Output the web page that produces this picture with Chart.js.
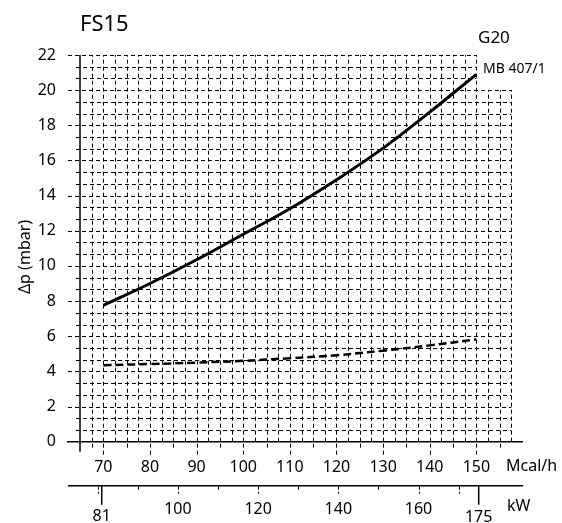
<!DOCTYPE html>
<html>
<head>
<meta charset="utf-8">
<script src="https://cdn.jsdelivr.net/npm/chart.js@4"></script>
<style>
  html, body { margin: 0; padding: 0; background: #fff; }
  #wrap { width: 562px; height: 523px; }
</style>
</head>
<body>
<div id="wrap"><canvas id="fsChart"></canvas></div>
<script>
// burner output in Mcal/h
const mcal = [70, 80, 90, 100, 110, 120, 130, 140, 150];
// pressure drop in mbar
const dpSolid = [7.75, 9.0, 10.35, 11.8, 13.25, 14.9, 16.7, 18.75, 20.9];
const dpDashed = [4.35, 4.42, 4.5, 4.6, 4.75, 4.92, 5.18, 5.48, 5.82];

// axis ticks
const yTicks = [0, 2, 4, 6, 8, 10, 12, 14, 16, 18, 20, 22];
const mcalTicks = [70, 80, 90, 100, 110, 120, 130, 140, 150];
const kwTicks = [100, 120, 140, 160];
const kwMarks = [81, 175];
const kwMinor = [80, 90, 100, 110, 120, 130, 140, 150, 160, 170];

const KW_TO_MCAL = 0.86;
const FONT = "'Noto Sans', sans-serif";

Chart.defaults.font.family = FONT;
Chart.defaults.font.size = 16;
Chart.defaults.color = '#000';

function seg(ctx, x1, y1, x2, y2) {
    ctx.beginPath();
    ctx.moveTo(x1, y1);
    ctx.lineTo(x2, y2);
    ctx.stroke();
}

// dotted paper grid + axis lines, drawn through the chart's own scales
const paperGrid = {
    id: 'paperGrid',
    beforeDatasetsDraw(chart) {
        const { ctx, scales: { x, y, x2 } } = chart;
        const y0 = y.getPixelForValue(0);
        ctx.save();
        ctx.strokeStyle = '#000';
        ctx.lineWidth = 1;
        ctx.setLineDash([4, 3]);

        // vertical lines every 2.5 Mcal/h, the top right corner is left open for the label
        for (let v = 67.5; v < 159; v += 2.5) {
            const px = Math.round(x.getPixelForValue(v)) + 0.5;
            const top = y.getPixelForValue(v <= 150 ? 22 : 20);
            seg(ctx, px, y0, px, top);
            if (v % 5 === 0 || v === 67.5) {
                seg(ctx, px, y0 + 2, px, y0 + (v % 10 === 0 ? 13 : 6));
            }
        }
        // horizontal lines every 2/3 mbar
        for (let i = 1; i <= 33; i++) {
            const v = i * 2 / 3;
            const py = Math.round(y.getPixelForValue(v)) + 0.5;
            const right = x.getPixelForValue(v > 20.01 ? 150 : 157.5);
            const left = x.left - (i % 3 === 0 ? 12 : 4);
            seg(ctx, left, py, right, py);
        }

        // solid axis lines
        ctx.setLineDash([]);
        ctx.lineWidth = 1.5;
        seg(ctx, x.left, y.getPixelForValue(22), x.left, y0 + 10);
        seg(ctx, x.left - 13, y0, x.right, y0);

        // kW scale
        const ky = x2.top;
        seg(ctx, x.left - 12, ky, x.right, ky);
        for (const k of kwMarks) {
            const px = x2.getPixelForValue(k);
            seg(ctx, px, ky, px, ky + 19);
        }
        ctx.lineWidth = 1;
        ctx.setLineDash([3, 2]);
        for (const k of kwMinor) {
            const px = Math.round(x2.getPixelForValue(k)) + 0.5;
            seg(ctx, px, ky + 1, px, ky + (k % 20 === 0 || k === 170 ? 8 : 4));
        }
        ctx.restore();
    },
    afterDraw(chart) {
        const { ctx, scales: { x, y, x2 } } = chart;
        ctx.save();
        ctx.fillStyle = '#000';
        ctx.textBaseline = 'alphabetic';
        ctx.textAlign = 'left';

        ctx.font = '22px ' + FONT;
        ctx.fillText('FS15', x.left, 31);
        ctx.font = '17px ' + FONT;
        ctx.fillText('G20', 478, 43);
        ctx.font = '14px ' + FONT;
        ctx.fillText('MB 407/1', 483, 73);

        ctx.font = '16px ' + FONT;
        ctx.fillText('Mcal/h', 506, 471);
        ctx.fillText('kW', 507, 511);

        ctx.textAlign = 'center';
        ctx.textBaseline = 'middle';
        ctx.fillText(String(kwMarks[0]), x2.getPixelForValue(kwMarks[0]), 516);
        ctx.fillText(String(kwMarks[1]), x2.getPixelForValue(kwMarks[1]), 517);

        ctx.translate(25, 257);
        ctx.rotate(-Math.PI / 2);
        ctx.fillText('\u0394p (mbar)', 0, 0);
        ctx.restore();
    }
};

const ctx = document.getElementById('fsChart').getContext('2d');
const fsChart = new Chart(ctx, {
    type: 'line',
    data: {
        datasets: [{
            label: 'MB 407/1',
            data: mcal.map((m, i) => ({ x: m, y: dpSolid[i] })),
            borderColor: '#000',
            borderWidth: 3,
            pointRadius: 0,
            tension: 0.4,
            fill: false
        }, {
            label: 'head',
            data: mcal.map((m, i) => ({ x: m, y: dpDashed[i] })),
            borderColor: '#000',
            borderWidth: 2.5,
            borderDash: [8, 4],
            pointRadius: 0,
            tension: 0.4,
            fill: false
        }]
    },
    options: {
        responsive: true,
        maintainAspectRatio: false,
        animation: false,
        layout: { padding: { left: 0, top: 55, right: 39, bottom: 0 } },
        plugins: {
            legend: { display: false },
            tooltip: { enabled: false }
        },
        scales: {
            x: {
                type: 'linear',
                position: 'bottom',
                weight: 0,
                min: 65,
                max: 160,
                grid: { display: false },
                border: { display: false },
                ticks: { padding: 8, maxRotation: 0, autoSkip: false },
                afterBuildTicks: s => { s.ticks = mcalTicks.map(v => ({ value: v })); },
                afterFit: s => { s.height = 44; }
            },
            x2: {
                type: 'linear',
                position: 'bottom',
                weight: 1,
                min: 65 / KW_TO_MCAL,
                max: 160 / KW_TO_MCAL,
                grid: { display: false },
                border: { display: false },
                ticks: { padding: 6, maxRotation: 0, autoSkip: false },
                afterBuildTicks: s => { s.ticks = kwTicks.map(v => ({ value: v })); },
                afterFit: s => { s.height = 37.3; }
            },
            y: {
                type: 'linear',
                min: 0,
                max: 22,
                grid: { display: false },
                border: { display: false },
                ticks: { padding: 16, autoSkip: false },
                afterBuildTicks: s => { s.ticks = yTicks.map(v => ({ value: v })); },
                afterFit: s => { s.width = 80; }
            }
        }
    },
    plugins: [paperGrid]
});
</script>
</body>
</html>
